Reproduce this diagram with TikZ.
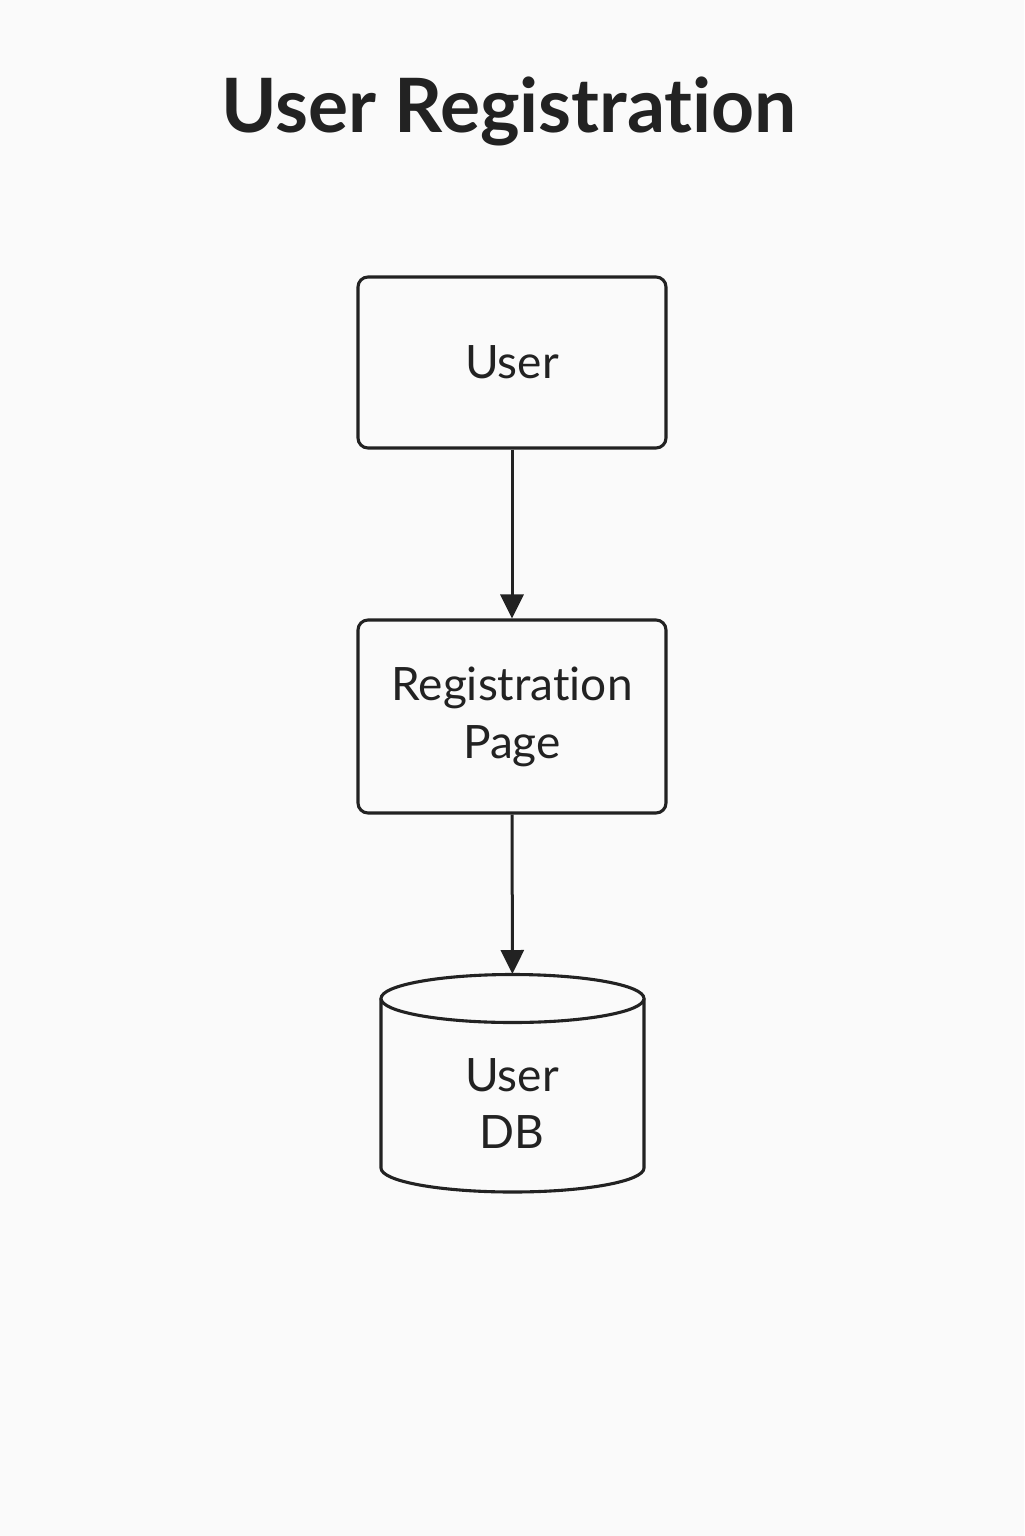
\documentclass[tikz,border=0pt]{standalone}
\usepackage{fontspec}
\setmainfont[Ligatures={NoCommon,NoRare,NoDiscretionary}]{Lato}
\usetikzlibrary{arrows.meta}
\definecolor{ink}{RGB}{34,34,34}
\definecolor{bg}{RGB}{250,250,250}
\begin{document}
\begin{tikzpicture}[x=0.5pt,y=-0.5pt,
  line/.style={draw=ink,line width=1.55pt},
  box/.style={line,rounded corners=5pt,minimum width=154pt,inner sep=0pt,
    font=\fontsize{23}{29}\selectfont,text=ink,align=center},
  flow/.style={draw=ink,line width=1.5pt,-{Triangle[width=11.5pt,length=12pt]}},
  lbl/.style={font=\fontsize{23}{28.5}\selectfont,text=ink,align=center}]
\fill[bg] (0,0) rectangle (1024,1536);
\useasboundingbox (0,0) rectangle (1024,1536);
\node[font=\fontsize{37.5}{40}\bfseries\selectfont,text=ink,anchor=base] (title) at (509,133) {User Registration};
\node[box,minimum height=85.5pt] (user) at (512,362.5) {User};
\node[box,minimum height=96.5pt] (reg) at (512,716.5) {Registration\\Page};
% database cylinder
\node[minimum width=131.5pt,minimum height=109.5pt,inner sep=0pt,outer sep=0pt] (db) at (512.5,1083.5) {};
\draw[line,fill=bg] (381,998.5) -- (381,1168) arc[start angle=180,end angle=0,x radius=131.5,y radius=24] -- (644,998.5);
\draw[line,fill=bg] (512.5,998.5) ellipse[x radius=131.5,y radius=24];
\node[lbl] (dbtext) at (512,1104) {User\\DB};
\draw[flow] (user) -- (reg);
\draw[flow] (reg) -- (db);
\end{tikzpicture}
\end{document}
